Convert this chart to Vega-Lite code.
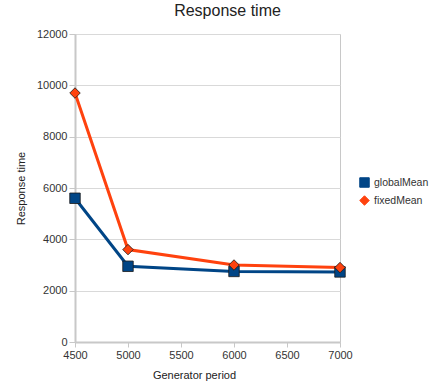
{
  "$schema": "https://vega.github.io/schema/vega-lite/v6.json",
  "width": 265,
  "height": 308,
  "autosize": "none",
  "padding": {"left": 75, "top": 34, "right": 96, "bottom": 49},
  "background": "white",
  "title": {"text": "Response time", "font": "Liberation Sans", "fontSize": 16, "fontWeight": "normal", "color": "#222", "offset": 9, "anchor": "middle", "dx": 20},
  "config": {
    "view": {"stroke": "#c8c8c8", "strokeWidth": 1},
    "font": "Liberation Sans",
    "axis": {"labelFont": "Liberation Sans", "titleFont": "Liberation Sans", "labelColor": "#333", "titleColor": "#222", "labelFontSize": 11, "titleFontSize": 11, "titleFontWeight": "normal", "domainColor": "#c8c8c8", "tickColor": "#c8c8c8", "gridColor": "#d9d9d9", "labelFlush": false}
  },
  "data": {"values": [
    {"period": 4500, "value": 5600, "series": "globalMean"},
    {"period": 5000, "value": 2950, "series": "globalMean"},
    {"period": 6000, "value": 2750, "series": "globalMean"},
    {"period": 7000, "value": 2730, "series": "globalMean"},
    {"period": 4500, "value": 9700, "series": "fixedMean"},
    {"period": 5000, "value": 3600, "series": "fixedMean"},
    {"period": 6000, "value": 3000, "series": "fixedMean"},
    {"period": 7000, "value": 2900, "series": "fixedMean"}
  ]},
  "encoding": {
    "x": {"field": "period", "type": "quantitative", "title": "Generator period", "scale": {"domain": [4500, 7000], "nice": false, "zero": false}, "axis": {"values": [4500, 5000, 5500, 6000, 6500, 7000], "grid": false, "format": "d", "domainWidth": 2, "tickSize": 5, "titlePadding": 9, "titleX": 119}},
    "y": {"field": "value", "type": "quantitative", "title": "Response time", "scale": {"domain": [0, 12000]}, "axis": {"values": [0, 2000, 4000, 6000, 8000, 10000, 12000], "format": "d", "domainWidth": 2, "tickSize": 6, "titlePadding": 10}},
    "color": {"field": "series", "type": "nominal", "sort": ["globalMean", "fixedMean"], "scale": {"domain": ["globalMean", "fixedMean"], "range": ["#004586", "#ff420e"]}, "legend": {"title": null, "orient": "none", "legendX": 284, "legendY": 143, "labelFontSize": 10.5, "labelColor": "#333", "symbolSize": 90, "rowPadding": 3, "symbolStrokeWidth": 1}},
    "shape": {"field": "series", "type": "nominal", "scale": {"domain": ["globalMean", "fixedMean"], "range": ["square", "diamond"]}}
  },
  "layer": [
    {"mark": {"type": "line", "strokeWidth": 3}},
    {"mark": {"type": "point", "filled": true, "size": 110, "opacity": 1, "stroke": "#1a1a1a", "strokeWidth": 0.8}}
  ]
}
